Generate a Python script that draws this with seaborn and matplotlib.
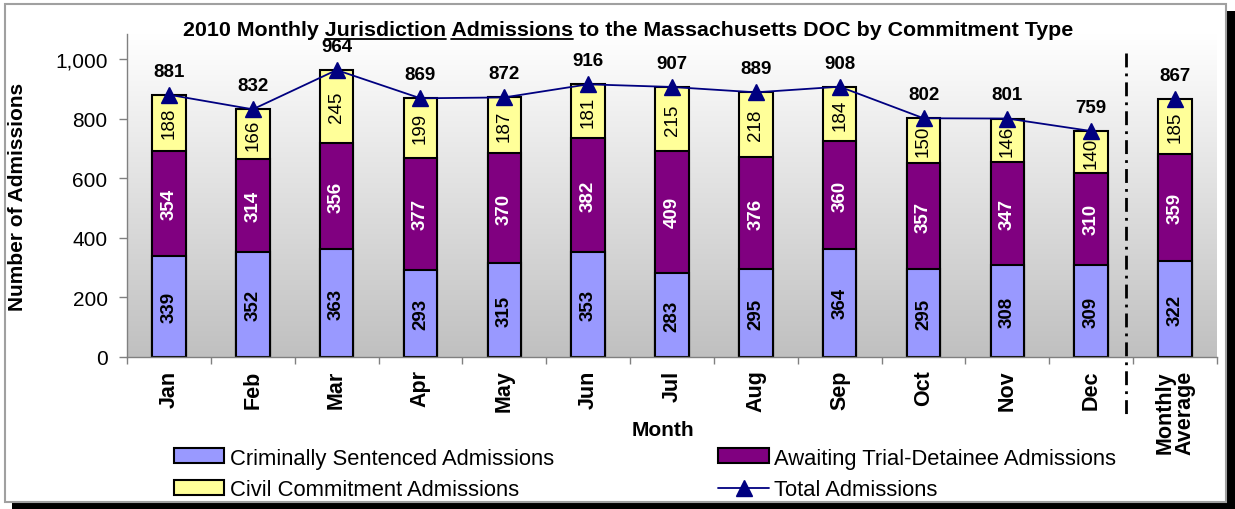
import numpy as np
import seaborn as sns
import matplotlib.pyplot as plt
from matplotlib.patches import Patch, Rectangle
from matplotlib.lines import Line2D
from matplotlib.colors import LinearSegmentedColormap
from matplotlib.transforms import blended_transform_factory

months = ["Jan", "Feb", "Mar", "Apr", "May", "Jun", "Jul", "Aug", "Sep", "Oct", "Nov", "Dec", "Monthly\nAverage"]
criminal = [339, 352, 363, 293, 315, 353, 283, 295, 364, 295, 308, 309, 322]
awaiting = [354, 314, 356, 377, 370, 382, 409, 376, 360, 357, 347, 310, 359]
civil = [188, 166, 245, 199, 187, 181, 215, 218, 184, 150, 146, 140, 185]
totals = [881, 832, 964, 869, 872, 916, 907, 889, 908, 802, 801, 759, 867]
series_names = ["Criminally Sentenced Admissions", "Awaiting Trial-Detainee Admissions",
                "Civil Commitment Admissions", "Total Admissions"]

c_blue, c_purple, c_yellow, c_navy = "#9999FF", "#800080", "#FFFF99", "#000080"

sns.set_theme(style="ticks")
plt.rcParams['font.family'] = ['Liberation Sans', 'DejaVu Sans']
plt.rcParams['text.color'] = 'black'
plt.rcParams['axes.labelcolor'] = 'black'
plt.rcParams['xtick.color'] = 'black'
plt.rcParams['ytick.color'] = 'black'

W, H = 1235, 510
fig = plt.figure(figsize=(W / 100, H / 100), dpi=100)
fig.patch.set_facecolor("white")

# chart frame with shadow
def px_rect(x0, y0, x1, y1, **kw):
    r = Rectangle((x0 / W, 1 - y1 / H), (x1 - x0) / W, (y1 - y0) / H,
                  transform=fig.transFigure, **kw)
    fig.add_artist(r)

px_rect(1226, 12, 1235, 510, facecolor="black", edgecolor="none", zorder=-3)
px_rect(12, 503, 1235, 510, facecolor="black", edgecolor="none", zorder=-3)
px_rect(5, 5, 1226, 503, facecolor="white", edgecolor="#a0a0a0", lw=1.5, zorder=-2)

ax = fig.add_axes([127 / W, 1 - 358 / H, 1090 / W, 323 / H])
ax.patch.set_alpha(0)
ytop = 1085

cum2 = np.array(criminal) + np.array(awaiting)
cum3 = cum2 + np.array(civil)

common = dict(errorbar=None, width=0.4, saturation=1, edgecolor="black", linewidth=1.5, ax=ax)
sns.barplot(x=months, y=cum3, color=c_yellow, **common)
sns.barplot(x=months, y=cum2, color=c_purple, **common)
sns.barplot(x=months, y=criminal, color=c_blue, **common)

# background gradient
cmap = LinearSegmentedColormap.from_list("bg", ["#c0c0c0", "#ffffff"])
ax.imshow(np.linspace(1, 0, 256)[:, None], extent=(-0.5, 12.5, 0, ytop), aspect="auto",
          cmap=cmap, vmin=0, vmax=1, zorder=0, interpolation="bicubic")

# segment labels
x = np.arange(len(months))
for i in x:
    ax.text(i, criminal[i] / 2, str(criminal[i]), rotation=90, ha="center", va="center",
            fontsize=13.5, fontweight="bold", color="black", zorder=6)
    ax.text(i, criminal[i] + awaiting[i] / 2, str(awaiting[i]), rotation=90, ha="center",
            va="center", fontsize=13.5, fontweight="bold", color="white", zorder=6)
    ax.text(i, cum2[i] + civil[i] / 2, str(civil[i]), rotation=90, ha="center", va="center",
            fontsize=13.5, color="black", zorder=6)

# total line
ax.plot(x[:12], totals[:12], color=c_navy, lw=1.3, marker="^", ms=11, zorder=7, clip_on=False)
ax.plot(x[12:], totals[12:], color=c_navy, lw=0, marker="^", ms=11, zorder=7, clip_on=False)
for i in x:
    ax.annotate(str(totals[i]), (i, totals[i]), xytext=(0, 17), textcoords="offset points",
                ha="center", va="center", fontsize=13.5, fontweight="bold", zorder=8)

# separator
tr = blended_transform_factory(ax.transData, ax.transAxes)
ax.plot([11.42, 11.42], [0.94, -0.19], transform=tr, clip_on=False, color="black",
        lw=2, linestyle=(0, (5, 2.2, 1, 2.2)), zorder=8)

ax.set_xlim(-0.5, 12.5)
ax.set_ylim(0, ytop)
ax.set_yticks(range(0, 1001, 200))
ax.set_yticklabels([f"{v:,}" for v in range(0, 1001, 200)], fontsize=15)
ax.set_xticks(x)
ax.set_xticklabels(months, rotation=90, fontsize=15.5, fontweight="bold",
                   multialignment="center", linespacing=0.95)
ax.set_xticks(np.arange(-0.5, 13, 1), minor=True)
ax.tick_params(axis="x", which="major", length=0, pad=9)
ax.tick_params(axis="x", which="minor", length=5, color="#808080", width=1)
ax.tick_params(axis="y", length=6, color="#808080", width=1, pad=8)
sns.despine(ax=ax)
for s in ("left", "bottom"):
    ax.spines[s].set_color("#808080")
    ax.spines[s].set_linewidth(1)

ax.set_ylabel("Number of Admissions", fontsize=15, fontweight="bold")
ax.yaxis.set_label_coords(-0.092, 0.5)
ax.set_xlabel("Month", fontsize=15, fontweight="bold")
ax.xaxis.set_label_coords(0.492, -0.195)

handles = [Patch(facecolor=c_blue, edgecolor="black", lw=1.5),
           Patch(facecolor=c_yellow, edgecolor="black", lw=1.5),
           Patch(facecolor=c_purple, edgecolor="black", lw=1.5),
           Line2D([], [], color=c_navy, lw=1.3, marker="^", ms=11)]
labels = [series_names[0], series_names[2], series_names[1], series_names[3]]
fig.legend(handles, labels, ncol=2, loc="center", bbox_to_anchor=(645 / W, 1 - 475 / H),
           frameon=False, fontsize=15.8, handlelength=2.3, handleheight=0.65,
           handletextpad=0.25, columnspacing=7.5, labelspacing=0.5)

# title with underlined words
pieces = ["2010 Monthly ", "Jurisdiction", " ", "Admissions", " to the Massachusetts DOC by Commitment Type"]
full = "".join(pieces)
tkw = dict(fontsize=15.4, fontweight="bold", va="baseline", ha="left")
fig.canvas.draw()
rend = fig.canvas.get_renderer()

def text_w(s):
    t = fig.text(0, 0, s, **tkw)
    w = t.get_window_extent(rend).width
    t.remove()
    return w

total_w = text_w(full)
x0 = 628 - total_w / 2
base_y = 1 - 36 / H
fig.text(x0 / W, base_y, full, **tkw)
for k in (1, 3):
    pre = "".join(pieces[:k + 1])
    end = x0 + text_w(pre)
    start = end - text_w(pieces[k])
    fig.add_artist(Line2D([start / W, end / W], [base_y - 4 / H, base_y - 4 / H],
                          transform=fig.transFigure, color="black", lw=1.3))

fig.savefig("out.png", dpi=100)
